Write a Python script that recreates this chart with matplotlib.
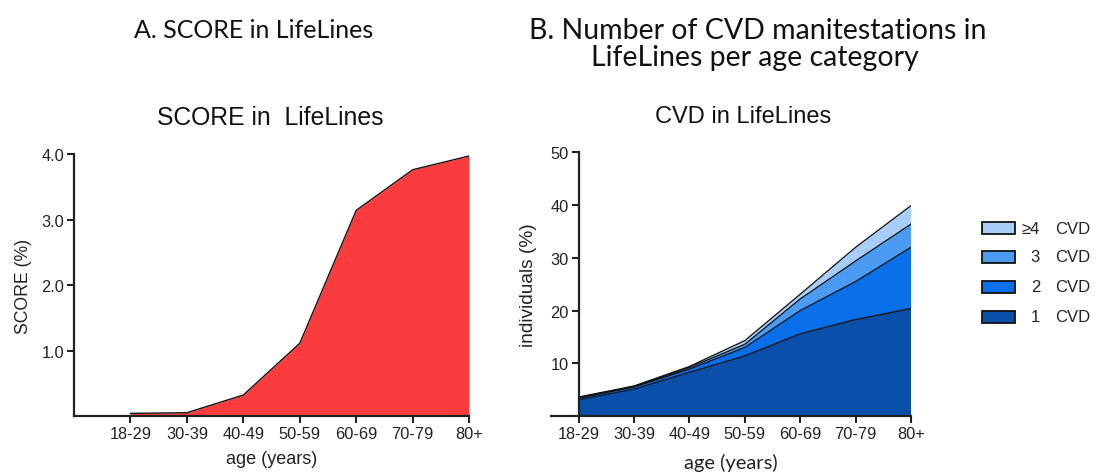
import matplotlib
matplotlib.use("Agg")
import matplotlib.pyplot as plt
from matplotlib.patches import Rectangle

plt.rcParams['font.family'] = ['Liberation Sans', 'DejaVu Sans']

age_groups = ["18-29", "30-39", "40-49", "50-59", "60-69", "70-79", "80+"]
score_values = [0.04, 0.05, 0.32, 1.11, 3.14, 3.76, 3.97]

cvd_1 = [3.1, 5.1, 8.3, 11.4, 15.6, 18.3, 20.4]
cvd_2 = [0.3, 0.4, 0.6, 1.6, 4.4, 7.2, 11.6]
cvd_3 = [0.1, 0.1, 0.3, 0.6, 2.2, 3.9, 4.4]
cvd_4plus = [0.1, 0.1, 0.2, 0.7, 0.9, 2.6, 3.5]
cvd_labels = ["1", "2", "3", "\u22654"]

red = "#FA3C3F"
blues = ["#0A4FAA", "#0A70EA", "#4C9BF2", "#A8CDF6"]
axis_col = "#222222"
W, H = 1096.0, 477.0

fig = plt.figure(figsize=(10.96, 4.77), dpi=100)

x = list(range(len(age_groups)))

# Panel A
axA = fig.add_axes([0.0675, 0.1258, 0.3605, 0.5492])
axA.fill_between(x, 0, score_values, color=red, lw=0)
axA.plot(x, score_values, color="#111111", lw=1.0)
axA.set_xlim(-1, 6)
axA.set_ylim(0, 4.0)
axA.set_yticks([1, 2, 3, 4])
axA.set_yticklabels(["1.0", "2.0", "3.0", "4.0"])
axA.set_xticks(x)
axA.set_xticklabels(age_groups)
axA.set_xlabel("age (years)", fontsize=13, labelpad=6.5, color="#222222")
axA.set_ylabel("SCORE (%)", fontsize=12.7, color="#222222")
axA.yaxis.set_label_coords(-0.107, 0.5)

# Panel B
axB = fig.add_axes([0.5027, 0.1258, 0.3285, 0.5528])
axB.stackplot(x, cvd_1, cvd_2, cvd_3, cvd_4plus, colors=blues, lw=0)
cum = [0.0] * len(x)
for layer in [cvd_1, cvd_2, cvd_3, cvd_4plus]:
    cum = [c + v for c, v in zip(cum, layer)]
    axB.plot(x, cum, color="#111111", lw=0.9)
axB.set_xlim(-0.5, 6)
axB.set_ylim(0, 50)
axB.spines['left'].set_position(('data', 0))
axB.set_yticks([10, 20, 30, 40, 50])
axB.set_xticks(x)
axB.set_xticklabels(age_groups)
axB.set_xlabel("age (years)", fontsize=14.5, labelpad=9, color="#222222",
               family=["Lato", "DejaVu Sans"])
axB.set_ylabel("individuals (%)", fontsize=13.8, color="#222222")
axB.yaxis.set_label_coords(-0.04, 0.5)

for ax in (axA, axB):
    ax.spines['top'].set_visible(False)
    ax.spines['right'].set_visible(False)
    for s in ['left', 'bottom']:
        ax.spines[s].set_linewidth(1.6)
        ax.spines[s].set_color(axis_col)
    ax.tick_params(direction='out', length=5, width=1.5, color=axis_col,
                   labelsize=11.8, labelcolor="#222222", pad=2)

# Plot subtitles
fig.text(270 / W, 1 - 118 / H, "SCORE in  LifeLines", ha='center', va='center',
         fontsize=17.8, color="#111111")
fig.text(743 / W, 1 - 117 / H, "CVD in LifeLines", ha='center', va='center',
         fontsize=17, color="#111111")

# Legend (manual)
leg_rows_y = [229, 258, 288, 318]
for lab, col, yy in zip(cvd_labels[::-1], blues[::-1], leg_rows_y):
    fig.patches.append(Rectangle((982 / W, 1 - (yy + 6) / H), 33 / W, 12 / H,
                                 transform=fig.transFigure, facecolor=col,
                                 edgecolor="#111111", lw=1.3))
    fig.text(1040 / W, 1 - yy / H, lab, ha='right', va='center', fontsize=12, color="#222222")
    fig.text(1055 / W, 1 - yy / H, "CVD", ha='left', va='center', fontsize=12, color="#222222")

# Panel headings
fig.text(254 / W, 1 - 31 / H, "A. SCORE in LifeLines", ha='center', va='center',
         fontsize=18, family=["Lato", "DejaVu Sans"], color="#111111")
fig.text(758 / W, 1 - 31 / H, "B. Number of CVD manitestations in", ha='center', va='center',
         fontsize=20.5, family=["Lato", "DejaVu Sans"], color="#111111")
fig.text(755 / W, 1 - 58 / H, "LifeLines per age category", ha='center', va='center',
         fontsize=20.5, family=["Lato", "DejaVu Sans"], color="#111111")

fig.savefig("out.png", dpi=100)
